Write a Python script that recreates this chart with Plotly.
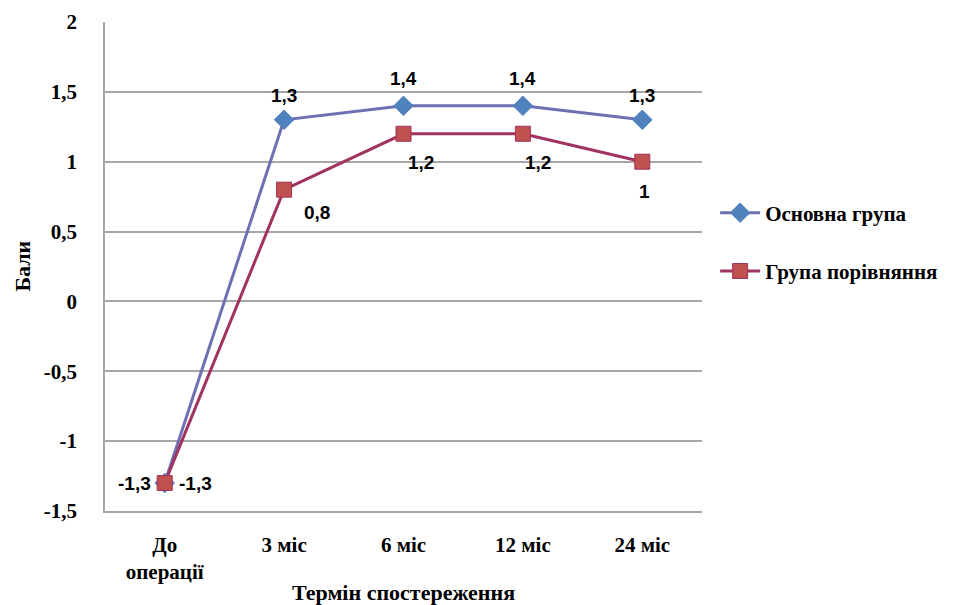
import plotly.graph_objects as go

categories = ["До<br>операції", "3 міс", "6 міс", "12 міс", "24 міс"]
main_group = [-1.3, 1.3, 1.4, 1.4, 1.3]
comparison_group = [-1.3, 0.8, 1.2, 1.2, 1.0]
y_ticks = [-1.5, -1, -0.5, 0, 0.5, 1, 1.5, 2]
y_tick_labels = ["-1,5", "-1", "-0,5", "0", "0,5", "1", "1,5", "2"]

def fmt(v):
    return ("%g" % v).replace(".", ",")

SERIF = "'Liberation Serif', 'Times New Roman', 'DejaVu Serif', serif"
SANS = "'Liberation Sans', Arial, sans-serif"

# label pixel offsets (style only)
main_offsets = [(-12, 0, "right"), (0, 24, "center"), (0, 27, "center"), (0, 27, "center"), (0, 24, "center")]
comp_offsets = [(12, 0, "left"), (33, -23, "center"), (17, -29, "center"), (15, -29, "center"), (2, -30, "center")]

fig = go.Figure()
fig.add_trace(go.Scatter(
    x=categories, y=main_group, name="<b>Основна група</b>", mode="lines+markers",
    line=dict(color="#6F70B3", width=3),
    marker=dict(symbol="diamond", size=15, color="#4F81BD", line=dict(color="#4F81BD", width=1)),
    legendgroup="a",
))
fig.add_trace(go.Scatter(
    x=categories, y=comparison_group, name="<b>Група порівняння</b>", mode="lines+markers",
    line=dict(color="#A0335F", width=3),
    marker=dict(symbol="square", size=15, color="#C0504D", line=dict(color="#A0335F", width=1)),
    legendgroup="b",
))

label_font = dict(family=SANS, size=19, color="black")
for vals, offs in ((main_group, main_offsets), (comparison_group, comp_offsets)):
    for c, v, (dx, dy, xa) in zip(categories, vals, offs):
        fig.add_annotation(x=c, y=v, text="<b>%s</b>" % fmt(v), showarrow=False,
                           xshift=dx, yshift=dy, xanchor=xa, yanchor="middle", font=label_font)

# y-axis title
fig.add_annotation(x=-0.139, y=0.5, xref="paper", yref="paper", text="<b>Бали</b>",
                   textangle=-90, showarrow=False, xanchor="center", yanchor="middle",
                   font=dict(family=SERIF, size=22, color="black"))

fig.update_layout(
    width=960, height=605,
    margin=dict(l=105, r=258, t=22, b=94),
    paper_bgcolor="white", plot_bgcolor="white",
    font=dict(family=SERIF, color="black"),
    showlegend=True,
    legend=dict(x=1.022, y=0.55, xanchor="left", yanchor="middle",
                font=dict(family=SERIF, size=21, color="black"),
                tracegroupgap=28, traceorder="grouped", itemwidth=40,
                bgcolor="rgba(0,0,0,0)"),
    xaxis=dict(
        type="category", range=[-0.5, 4.5], showgrid=False, automargin=False,
        showline=True, linecolor="#A6A6A6", linewidth=1.5,
        ticks="", ticklabelstandoff=14,
        tickfont=dict(family=SERIF, size=21, color="black"),
        title=dict(text="<b>Термін спостереження</b>", font=dict(family=SERIF, size=22), standoff=1),
        tickprefix="<b>", ticksuffix="</b>",
    ),
    yaxis=dict(
        range=[-1.5, 2], tickvals=y_ticks, ticktext=["<b>%s</b>" % t for t in y_tick_labels],
        showgrid=True, gridcolor="#A6A6A6", gridwidth=1.5, zeroline=False, automargin=False,
        showline=True, linecolor="#A6A6A6", linewidth=1.5,
        ticks="", ticklabelstandoff=22,
        tickfont=dict(family=SERIF, size=21, color="black"),
    ),
)

fig.write_html("out.html")
